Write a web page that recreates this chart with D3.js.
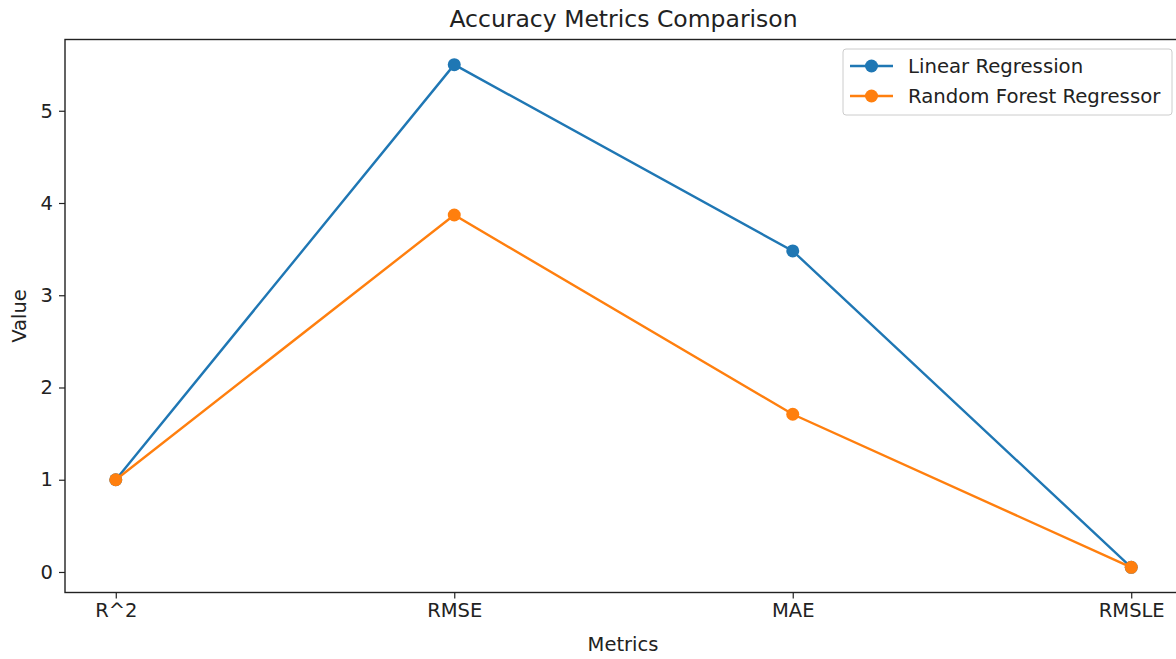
<!DOCTYPE html>
<html>
<head>
<meta charset="utf-8">
<script src="https://cdn.jsdelivr.net/npm/d3@7"></script>
<style>
  body { margin: 0; background: #fff; }
  text { font-family: "DejaVu Sans", sans-serif; fill: #222; }
</style>
</head>
<body>
<div id="chart"></div>
<script>
const metrics = ['R^2', 'RMSE', 'MAE', 'RMSLE'];
const linearRegression = [1.0, 5.5, 3.48, 0.05];
const randomForest = [1.0, 3.87, 1.71, 0.05];
const yTicks = [0, 1, 2, 3, 4, 5];

const series = [
  { name: 'Linear Regression', values: linearRegression, color: '#1f77b4' },
  { name: 'Random Forest Regressor', values: randomForest, color: '#ff7f0e' }
];

let width = 1176,
    height = 659;

let margin = { left: 65, top: 39.5, right: -6, bottom: 66.5 };
let iw = width - margin.left - margin.right,
    ih = height - margin.top - margin.bottom;

let svg = d3.select('#chart').append('svg')
  .attr('width', width)
  .attr('height', height);

// matplotlib-style 5% padding around data
let x = d3.scaleLinear().domain([-0.15, 3.15]).range([0, iw]);
let yMin = 0.05, yMax = 5.5, pad = (yMax - yMin) * 0.05;
let y = d3.scaleLinear().domain([yMin - pad, yMax + pad]).range([ih, 0]);

let g = svg.append('g').attr('transform', `translate(${margin.left},${margin.top})`);

let xAxis = g.append('g')
  .attr('transform', `translate(0,${ih})`)
  .call(d3.axisBottom(x).tickValues(d3.range(metrics.length))
    .tickFormat(i => metrics[i]).tickSize(6).tickPadding(5));

let yAxis = g.append('g')
  .call(d3.axisLeft(y).tickValues(yTicks).tickFormat(d3.format('d'))
    .tickSize(6).tickPadding(6));

[xAxis, yAxis].forEach(a => {
  a.select('.domain').remove();
  a.selectAll('.tick line').attr('stroke', '#222').attr('stroke-width', 1.2);
  a.selectAll('.tick text').style('font-size', '19.5px').attr('fill', '#222');
});

// spines
g.append('rect')
  .attr('width', iw).attr('height', ih)
  .attr('fill', 'none').attr('stroke', '#222').attr('stroke-width', 1.4);

let line = d3.line()
  .x((d, i) => x(i))
  .y(d => y(d));

series.forEach(s => {
  g.append('path')
    .datum(s.values)
    .attr('d', line)
    .attr('fill', 'none')
    .attr('stroke', s.color)
    .attr('stroke-width', 2.4);
  g.selectAll(null)
    .data(s.values)
    .enter().append('circle')
      .attr('cx', (d, i) => x(i))
      .attr('cy', d => y(d))
      .attr('r', 6.5)
      .attr('fill', s.color);
});

// title & labels
svg.append('text')
  .attr('x', margin.left + iw / 2).attr('y', 27)
  .attr('text-anchor', 'middle')
  .style('font-size', '23.5px')
  .text('Accuracy Metrics Comparison');

svg.append('text')
  .attr('x', 623).attr('y', 651)
  .attr('text-anchor', 'middle')
  .style('font-size', '19.5px')
  .text('Metrics');

svg.append('text')
  .attr('transform', `translate(26,${margin.top + ih / 2}) rotate(-90)`)
  .attr('text-anchor', 'middle')
  .style('font-size', '19.5px')
  .text('Value');

// legend
let legend = svg.append('g').attr('transform', 'translate(843,49)');
legend.append('rect')
  .attr('width', 329).attr('height', 66).attr('rx', 3)
  .attr('fill', '#fff').attr('fill-opacity', 0.8)
  .attr('stroke', '#ccc').attr('stroke-width', 1);

series.forEach((s, i) => {
  let row = legend.append('g').attr('transform', `translate(0,${17 + i * 30})`);
  row.append('line')
    .attr('x1', 7).attr('x2', 50)
    .attr('stroke', s.color).attr('stroke-width', 2.4);
  row.append('circle')
    .attr('cx', 28.5).attr('r', 6.5).attr('fill', s.color);
  row.append('text')
    .attr('x', 65).attr('dy', '0.35em')
    .style('font-size', '19.7px')
    .text(s.name);
});
</script>
</body>
</html>
